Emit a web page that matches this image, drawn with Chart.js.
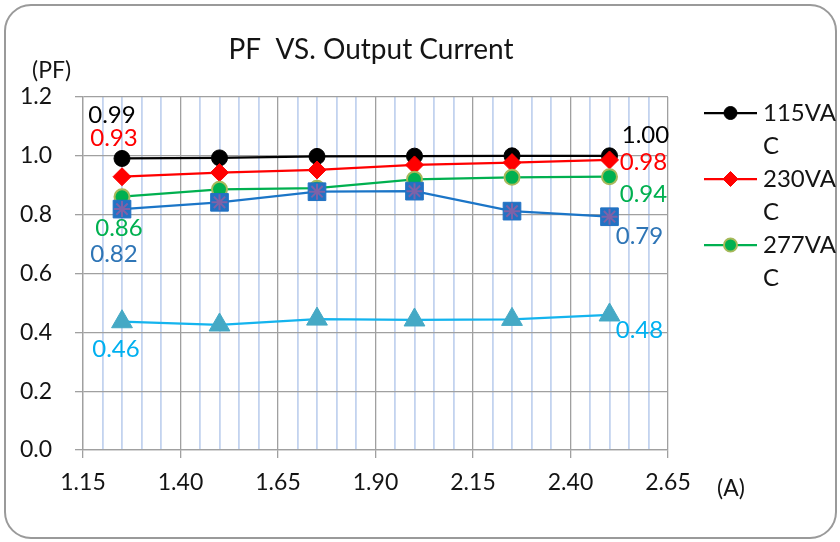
<!DOCTYPE html>
<html><head><meta charset="utf-8">
<script src="https://cdn.jsdelivr.net/npm/chart.js@4.4.0/dist/chart.umd.min.js"></script>
<style>html,body{margin:0;padding:0;background:#fff;}#wrap{width:840px;height:542px;position:relative;}</style>
</head><body><div id="wrap"><canvas id="c" width="840" height="542"></canvas></div>
<script>
// ---- data ----
const currents = [1.25, 1.50, 1.75, 2.00, 2.25, 2.50];
const pf115 = [0.991, 0.993, 0.998, 0.999, 1.000, 1.000];
const pf230 = [0.929, 0.943, 0.952, 0.969, 0.977, 0.986];
const pf277 = [0.861, 0.886, 0.890, 0.920, 0.927, 0.929];
const pfSeries4 = [0.819, 0.842, 0.878, 0.880, 0.812, 0.793];
const pfSeries5 = [0.436, 0.425, 0.445, 0.442, 0.444, 0.459];
const seriesNames = ['115VAC', '230VAC', '277VAC'];
const firstLabels = ['0.99', '0.93', '0.86', '0.82', '0.46'];
const lastLabels = ['1.00', '0.98', '0.94', '0.79', '0.48'];
const yTicks = [0, 0.2, 0.4, 0.6, 0.8, 1.0, 1.2];
const xTickLabels = ['1.15', '1.40', '1.65', '1.90', '2.15', '2.40', '2.65'];
const xMinorPerMajor = 5;
const titleText = 'PF  VS. Output Current';
const yAxisTitle = '(PF)';
const xAxisTitle = '(A)';

// ---- build ----
const FONT = 'Lato, "Open Sans", sans-serif';
Chart.defaults.font.family = FONT;
const xMin = parseFloat(xTickLabels[0]);
const xMax = parseFloat(xTickLabels[xTickLabels.length - 1]);
const nMinor = (xTickLabels.length - 1) * xMinorPerMajor;
const xTickValues = [];
for (let i = 0; i <= nMinor; i++) xTickValues.push(xMin + (xMax - xMin) * i / nMinor);
const pts = ys => currents.map((x, i) => ({x: x, y: ys[i]}));

const GRID = '#a0a0a0';
const MINOR = '#c3d3ef';
const TXT = '#141414';

const datasets = [
  {label: seriesNames[0], data: pts(pf115), borderColor: '#000000', backgroundColor: '#000000', pointStyle: 'circle', pointRadius: 8, order: 6},
  {label: seriesNames[1], data: pts(pf230), borderColor: '#ff0000', backgroundColor: '#ff0000', pointStyle: 'rectRot', pointRadius: 9, order: 5},
  {label: seriesNames[2], data: pts(pf277), borderColor: '#00b050', backgroundColor: '#00b050', pointBorderColor: '#a7b95a', pointBorderWidth: 2, pointStyle: 'circle', pointRadius: 7.5, order: 4},
  {label: 's4', data: pts(pfSeries4), borderColor: '#1b75c7', backgroundColor: '#2272c3', pointBorderColor: '#2272c3', pointStyle: 'rect', pointRadius: 12.5, order: 3},
  {label: 's4m', data: pts(pfSeries4), showLine: false, borderColor: '#7d62a8', backgroundColor: '#7d62a8', pointStyle: 'star', pointRadius: 8, pointBorderWidth: 2, order: 2},
  {label: 's5', data: pts(pfSeries5), borderColor: '#14b4ee', backgroundColor: '#45a9c5', pointBorderColor: '#45a9c5', pointStyle: 'triangle', pointRadius: 12, order: 1}
];
datasets.forEach(d => { d.borderWidth = 2.25; d.tension = 0; if (d.pointBorderWidth === undefined) d.pointBorderWidth = 1; });

const labelDatasets = [0, 1, 2, 3, 5];
const labelColors = ['#000000', '#ff0000', '#00b050', '#2e75b6', '#00b0f0'];
const labelOffsets = [[[-10, -43], [36, -21]], [[-8, -38], [34, 2]], [[-3, 32], [34, 18]], [[-8, 45], [30, 20]], [[-6, 28], [30, 15]]];

const decor = {
  id: 'decor',
  beforeDraw(chart) {
    const c = chart.ctx;
    c.save();
    c.fillStyle = '#ffffff';
    c.fillRect(0, 0, chart.width, chart.height);
    c.beginPath();
    c.roundRect(5, 5, 831, 533, 26);
    c.strokeStyle = '#9a9a9a';
    c.lineWidth = 2;
    c.stroke();
    c.restore();
  },
  afterDatasetsDraw(chart) {
    const c = chart.ctx;
    c.save();
    c.font = '24px ' + FONT;
    c.textAlign = 'center';
    c.textBaseline = 'middle';
    labelDatasets.forEach((di, k) => {
      const els = chart.getDatasetMeta(di).data;
      const a = els[0], b = els[els.length - 1];
      c.fillStyle = labelColors[k];
      c.fillText(firstLabels[k], a.x + labelOffsets[k][0][0], a.y + labelOffsets[k][0][1]);
      c.fillText(lastLabels[k], b.x + labelOffsets[k][1][0], b.y + labelOffsets[k][1][1]);
    });
    c.restore();
  },
  afterDraw(chart) {
    const c = chart.ctx;
    c.save();
    c.fillStyle = TXT;
    c.textBaseline = 'middle';
    c.textAlign = 'center';
    c.font = '28px ' + FONT;
    c.fillText(titleText, 371, 50);
    c.font = '23px ' + FONT;
    c.textAlign = 'left';
    c.fillText(yAxisTitle, 32, 71);
    c.fillText(xAxisTitle, 717, 489);
    // legend
    c.font = '24px ' + FONT;
    const legendR = [6.5, 7.5, 6.5];
    for (let i = 0; i < 3; i++) {
      const ds = chart.data.datasets[i];
      const y = 113 + 66 * i;
      c.beginPath();
      c.moveTo(704, y); c.lineTo(757, y);
      c.strokeStyle = ds.borderColor; c.lineWidth = 2.25; c.stroke();
      c.fillStyle = ds.backgroundColor;
      c.strokeStyle = ds.pointBorderColor || ds.borderColor;
      c.lineWidth = ds.pointBorderWidth;
      Chart.helpers.drawPoint(c, {pointStyle: ds.pointStyle, radius: legendR[i], rotation: 0, borderWidth: ds.pointBorderWidth}, 730.5, y);
      const name = ds.label;
      const lines = [];
      let cur = '';
      for (const ch of name) {
        if (cur && c.measureText(cur + ch).width > 74) { lines.push(cur); cur = ch; } else cur += ch;
      }
      lines.push(cur);
      c.fillStyle = TXT;
      lines.forEach((ln, j) => c.fillText(ln, 763, y + 33 * j));
    }
    c.restore();
  }
};

new Chart(document.getElementById('c'), {
  type: 'line',
  data: {datasets: datasets},
  options: {
    responsive: false,
    animation: false,
    events: [],
    layout: {padding: {left: 10, right: 172, top: 97, bottom: 10}},
    plugins: {legend: {display: false}, title: {display: false}, tooltip: {enabled: false}},
    scales: {
      x: {
        type: 'linear', min: xMin, max: xMax,
        afterBuildTicks: s => { s.ticks = xTickValues.map(v => ({value: v})); },
        afterFit: s => { s.height = 82; },
        ticks: {autoSkip: false, maxRotation: 0, padding: 11, color: TXT, font: {size: 23},
          callback: (v, i) => (i % xMinorPerMajor === 0 ? xTickLabels[i / xMinorPerMajor] : '')},
        grid: {
          color: c => (c.index % xMinorPerMajor === 0 ? GRID : MINOR),
          lineWidth: c => (c.index % xMinorPerMajor === 0 ? 1.3 : 1.8),
          tickColor: c => (c.index % xMinorPerMajor === 0 ? GRID : 'rgba(0,0,0,0)'),
          tickLength: 8
        },
        border: {color: GRID, width: 1.3}
      },
      y: {
        min: 0, max: 1.2,
        afterBuildTicks: s => { s.ticks = yTicks.map(v => ({value: v})); },
        afterFit: s => { s.width = 73; },
        ticks: {padding: 23, color: TXT, font: {size: 23}, callback: v => v.toFixed(1)},
        grid: {color: GRID, lineWidth: 1.3, tickLength: 8},
        border: {color: GRID, width: 1.3}
      }
    }
  },
  plugins: [decor]
});
</script>
</body></html>
